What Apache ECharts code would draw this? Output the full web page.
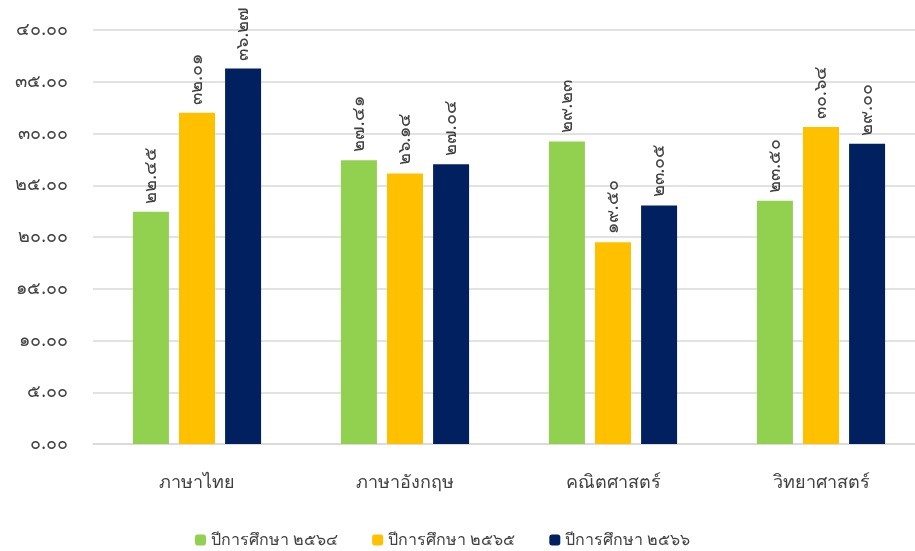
<!DOCTYPE html>
<html><head><meta charset="utf-8">
<script src="https://cdn.jsdelivr.net/npm/echarts@6/dist/echarts.min.js"></script>
<style>html,body{margin:0;padding:0;background:#fff;overflow:hidden}#c{width:925px;height:551px}</style>
</head><body><div id="c"></div>
<script>
const categories = ['ภาษาไทย', 'ภาษาอังกฤษ', 'คณิตศาสตร์', 'วิทยาศาสตร์'];
const seriesNames = ['ปีการศึกษา ๒๕๖๔', 'ปีการศึกษา ๒๕๖๕', 'ปีการศึกษา ๒๕๖๖'];
const y2564 = [22.45, 27.41, 29.23, 23.50];
const y2565 = [32.01, 26.14, 19.50, 30.64];
const y2566 = [36.27, 27.04, 23.05, 29.00];
const colors = ['#92d050', '#ffc000', '#002060'];

const thaiDigits = '๐๑๒๓๔๕๖๗๘๙';
function toThai(s){ return String(s).replace(/[0-9]/g, d => thaiDigits[+d]); }
const FONT = 'Tahoma, "Noto Sans", sans-serif';

const chart = echarts.init(document.getElementById('c'));
const mk = (name, data, color) => ({
  name, type: 'bar', data, barWidth: 36, barGap: '28%',
  itemStyle: { color },
  label: { show: true, position: 'top', rotate: 90, align: 'left', verticalAlign: 'middle', distance: 8,
    color: '#404040', fontSize: 18, fontFamily: FONT,
    formatter: p => toThai(p.value.toFixed(2)) }
});
chart.setOption({
  animation: false,
  textStyle: { fontFamily: FONT },
  grid: { left: 93, top: 30, right: 0, height: 414 },
  legend: { top: 527, left: 190, itemWidth: 11, itemHeight: 11, itemGap: 34,
    textStyle: { fontSize: 16, color: '#404040', fontFamily: FONT },
    data: seriesNames },
  xAxis: { type: 'category', data: categories,
    axisLine: { lineStyle: { color: '#d9d9d9', width: 1.5 } }, axisTick: { show: false },
    axisLabel: { fontSize: 18, color: '#404040', margin: 30, fontFamily: FONT } },
  yAxis: { type: 'value', min: 0, max: 40, interval: 5,
    axisLine: { show: false }, axisTick: { show: false },
    splitLine: { lineStyle: { color: '#d9d9d9', width: 1.5 } },
    axisLabel: { fontSize: 18, color: '#404040', margin: 25, fontFamily: FONT,
      formatter: v => toThai(v.toFixed(2)) } },
  series: [mk(seriesNames[0], y2564, colors[0]), mk(seriesNames[1], y2565, colors[1]), mk(seriesNames[2], y2566, colors[2])]
});
</script></body></html>
